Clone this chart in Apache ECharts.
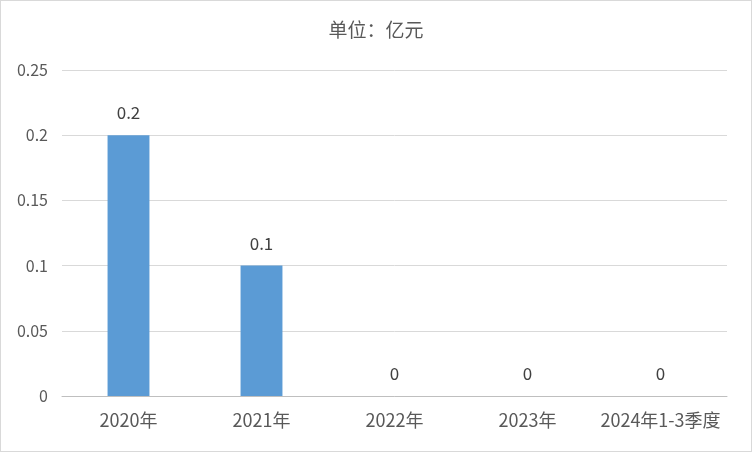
<!DOCTYPE html>
<html><head><meta charset="utf-8">
<script src="https://cdn.jsdelivr.net/npm/echarts@6/dist/echarts.min.js"></script>
<style>html,body{margin:0;padding:0;background:#fff}#c{width:750px;height:450px;border:1px solid #d9d9d9}</style>
</head><body><div id="c"></div>
<script>
const categories = ['2020年','2021年','2022年','2023年','2024年1-3季度'];
const values = [0.2, 0.1, 0, 0, 0];
const yTicks = [0, 0.05, 0.1, 0.15, 0.2, 0.25];
const chart = echarts.init(document.getElementById('c'));
chart.setOption({
  animation:false,
  title:{text:'单位：亿元',left:'center',top:14,textStyle:{fontSize:19,fontWeight:'normal',color:'#595959',fontFamily:'Noto Sans CJK SC'}},
  grid:{left:61,right:24,top:69,bottom:55},
  xAxis:{type:'category',data:categories,axisTick:{show:false},
    axisLine:{lineStyle:{color:'#bfbfbf'}},
    axisLabel:{interval:0,color:'#595959',fontSize:18,margin:15,fontFamily:'Noto Sans CJK SC'}},
  yAxis:{type:'value',min:0,max:0.25,interval:0.05,
    axisLabel:{color:'#595959',fontSize:16,margin:14,fontFamily:'Noto Sans CJK SC',formatter:v=>String(+v.toFixed(2))},
    splitLine:{lineStyle:{color:'#d9d9d9'}},axisLine:{show:false},axisTick:{show:false}},
  series:[{type:'bar',data:values,barWidth:'31.5%',itemStyle:{color:'#5b9bd5'},
    label:{show:true,position:'top',distance:14,color:'#404040',fontSize:17,fontFamily:'Noto Sans CJK SC'}}]
});
</script></body></html>
